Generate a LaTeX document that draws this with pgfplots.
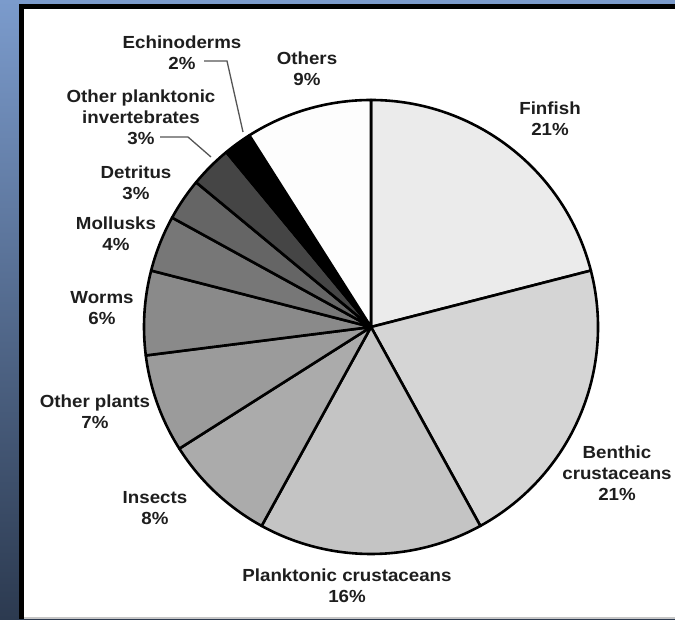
\documentclass[border=0pt]{standalone}
\usepackage{pgfplots}
\pgfplotsset{compat=1.18}
\usepackage{pgfplotstable}
\usepackage{fontspec}
\setmainfont{Liberation Sans}

\definecolor{bgtop}{HTML}{7B9BCC}
\definecolor{bgbot}{HTML}{2C3A50}
\definecolor{txt}{HTML}{1E1E1E}
\definecolor{lead}{HTML}{555555}
% slice fills, same order as the table
\definecolor{slice0}{HTML}{EBEBEB}
\definecolor{slice1}{HTML}{D5D5D5}
\definecolor{slice2}{HTML}{C4C4C4}
\definecolor{slice3}{HTML}{ABABAB}
\definecolor{slice4}{HTML}{9B9B9B}
\definecolor{slice5}{HTML}{8A8A8A}
\definecolor{slice6}{HTML}{777777}
\definecolor{slice7}{HTML}{656565}
\definecolor{slice8}{HTML}{454545}
\definecolor{slice9}{HTML}{000000}
\definecolor{slice10}{HTML}{FDFDFD}

\tikzset{lbl/.style={font=\bfseries\fontsize{17.5}{21}\selectfont, text=txt, align=center, inner sep=0pt, xscale=1.07}}

\pgfplotstableread[col sep=comma]{
name,value
Finfish,21
Benthic crustaceans,21
Planktonic crustaceans,16
Insects,8
Other plants,7
Worms,6
Mollusks,4
Detritus,3
Other planktonic invertebrates,3
Echinoderms,2
Others,9
}\piedata

\def\cx{371}
\def\cy{292}
\def\rad{227}

\begin{document}
\begin{tikzpicture}
\begin{axis}[
    x=1pt, y=1pt, scale only axis,
    xmin=0, xmax=675, ymin=0, ymax=619,
    hide axis, clip=false,
]
% frame
\shade[top color=bgtop, bottom color=bgbot] (axis cs:0,0) rectangle (axis cs:675,619);
\fill[black] (axis cs:19,0) rectangle (axis cs:675,615);
\fill[white] (axis cs:24,2) rectangle (axis cs:675,610);
\fill[gray!45] (axis cs:24,0) rectangle (axis cs:675,2);

% slices, clockwise from 12 o'clock
\def\angstart{90}
\pgfplotsforeachungrouped \i in {0,...,10}{
    \pgfplotstablegetelem{\i}{value}\of\piedata
    \let\val\pgfplotsretval
    \pgfmathsetmacro{\angend}{\angstart-3.6*\val}
    \pgfmathsetmacro{\px}{\cx+\rad*cos(\angstart)}
    \pgfmathsetmacro{\py}{\cy+\rad*sin(\angstart)}
    \edef\temp{\noexpand\filldraw[fill=slice\i, draw=black, line width=2.6pt, line join=round]
        (axis cs:\cx,\cy) -- (axis cs:\px,\py)
        arc[start angle=\angstart, end angle=\angend, radius=\rad pt] -- cycle;}
    \temp
    \global\let\angstart\angend
}

% leader lines
\draw[lead, line width=1.3pt] (axis cs:204,{619-61}) -- (axis cs:227,{619-61}) -- (axis cs:243,{619-132});
\draw[lead, line width=1.3pt] (axis cs:160,{619-137}) -- (axis cs:188,{619-137}) -- (axis cs:211,{619-157});

% labels
\node[lbl] at (axis cs:550,{619-119}) {Finfish\\21\%};
\node[lbl] at (axis cs:617,{619-473}) {Benthic\\crustaceans\\21\%};
\node[lbl] at (axis cs:347,{619-586}) {Planktonic crustaceans\\16\%};
\node[lbl] at (axis cs:155,{619-508}) {Insects\\8\%};
\node[lbl] at (axis cs:95,{619-412}) {Other plants\\7\%};
\node[lbl] at (axis cs:102,{619-308}) {Worms\\6\%};
\node[lbl] at (axis cs:116,{619-234}) {Mollusks\\4\%};
\node[lbl] at (axis cs:136,{619-183}) {Detritus\\3\%};
\node[lbl] at (axis cs:141,{619-117}) {Other planktonic\\invertebrates\\3\%};
\node[lbl] at (axis cs:182,{619-53}) {Echinoderms\\2\%};
\node[lbl] at (axis cs:307,{619-69}) {Others\\9\%};
\end{axis}
\end{tikzpicture}
\end{document}
